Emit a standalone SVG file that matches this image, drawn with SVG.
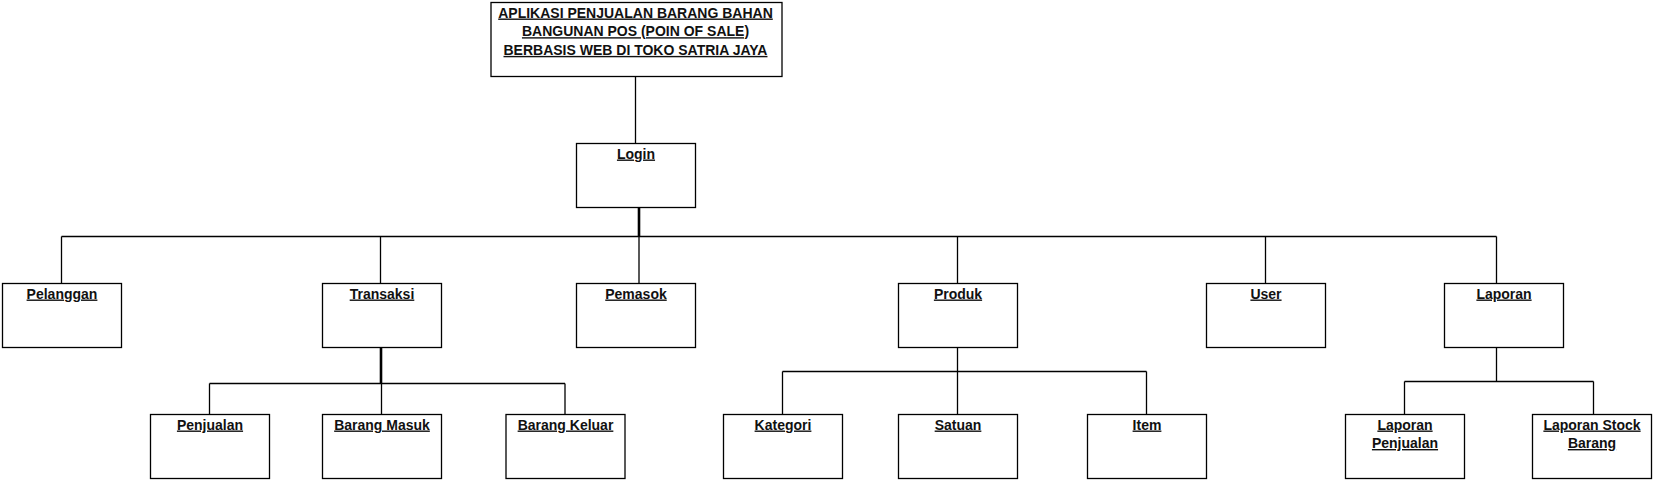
<svg xmlns="http://www.w3.org/2000/svg" width="1655" height="482" viewBox="0 0 1655 482">
<style>
.box{fill:#fff;stroke:#000;stroke-width:1.3}
.lbl{font-family:"Liberation Sans",Arial,sans-serif;font-size:14px;font-weight:bold;fill:#111;text-anchor:middle;text-decoration:underline}
.ln{fill:none;stroke:#000;stroke-width:1.3}
.thick{fill:none;stroke:#000;stroke-width:2.6}
</style>
<rect width="1655" height="482" fill="#fff"/>
<g id="connectors">
<path class="ln" d="M635.5 76 V143.5"/>
<path class="thick" d="M639 207.5 V236.5"/>
<path class="ln" d="M61.5 236.5 H1496.5 M61.5 236.5 V283.5 M380.5 236.5 V283.5 M639 236.5 V283.5 M957.5 236.5 V283.5 M1265.5 236.5 V283.5 M1496.5 236.5 V283.5"/>
<path class="thick" d="M381 347.5 V383.5"/>
<path class="ln" d="M209.5 383.5 H565 M209.5 383.5 V414.5 M381.5 383.5 V414.5 M565 383.5 V414.5"/>
<path class="ln" d="M957.5 347.5 V414.5 M782.5 371.5 H1146.5 M782.5 371.5 V414.5 M1146.5 371.5 V414.5"/>
<path class="ln" d="M1496.5 347.5 V381.5 M1404.5 381.5 H1593.5 M1404.5 381.5 V414.5 M1593.5 381.5 V414.5"/>
</g>
<g id="title"><rect class="box" x="491" y="2.5" width="291" height="74"/>
<text class="lbl" x="635.5" y="17.5">APLIKASI PENJUALAN BARANG BAHAN</text>
<text class="lbl" x="635.5" y="36.2">BANGUNAN POS (POIN OF SALE)</text>
<text class="lbl" x="635.5" y="54.9">BERBASIS WEB DI TOKO SATRIA JAYA</text></g>
<g id="login"><rect class="box" x="576.5" y="143.5" width="119" height="64"/><text class="lbl" x="636" y="158.5">Login</text></g>
<g id="pelanggan"><rect class="box" x="2.5" y="283.5" width="119" height="64"/><text class="lbl" x="62" y="298.5">Pelanggan</text></g>
<g id="transaksi"><rect class="box" x="322.5" y="283.5" width="119" height="64"/><text class="lbl" x="382" y="298.5">Transaksi</text></g>
<g id="pemasok"><rect class="box" x="576.5" y="283.5" width="119" height="64"/><text class="lbl" x="636" y="298.5">Pemasok</text></g>
<g id="produk"><rect class="box" x="898.5" y="283.5" width="119" height="64"/><text class="lbl" x="958" y="298.5">Produk</text></g>
<g id="user"><rect class="box" x="1206.5" y="283.5" width="119" height="64"/><text class="lbl" x="1266" y="298.5">User</text></g>
<g id="laporan"><rect class="box" x="1444.5" y="283.5" width="119" height="64"/><text class="lbl" x="1504" y="298.5">Laporan</text></g>
<g id="penjualan"><rect class="box" x="150.5" y="414.5" width="119" height="64"/><text class="lbl" x="210" y="429.5">Penjualan</text></g>
<g id="barang-masuk"><rect class="box" x="322.5" y="414.5" width="119" height="64"/><text class="lbl" x="382" y="429.5">Barang Masuk</text></g>
<g id="barang-keluar"><rect class="box" x="506" y="414.5" width="119" height="64"/><text class="lbl" x="565.5" y="429.5">Barang Keluar</text></g>
<g id="kategori"><rect class="box" x="723.5" y="414.5" width="119" height="64"/><text class="lbl" x="783" y="429.5">Kategori</text></g>
<g id="satuan"><rect class="box" x="898.5" y="414.5" width="119" height="64"/><text class="lbl" x="958" y="429.5">Satuan</text></g>
<g id="item"><rect class="box" x="1087.5" y="414.5" width="119" height="64"/><text class="lbl" x="1147" y="429.5">Item</text></g>
<g id="laporan-penjualan"><rect class="box" x="1345.5" y="414.5" width="119" height="64"/><text class="lbl" x="1405" y="429.5">Laporan</text><text class="lbl" x="1405" y="448">Penjualan</text></g>
<g id="laporan-stock-barang"><rect class="box" x="1532.5" y="414.5" width="119" height="64"/><text class="lbl" x="1592" y="429.5">Laporan Stock</text><text class="lbl" x="1592" y="448">Barang</text></g>
</svg>
